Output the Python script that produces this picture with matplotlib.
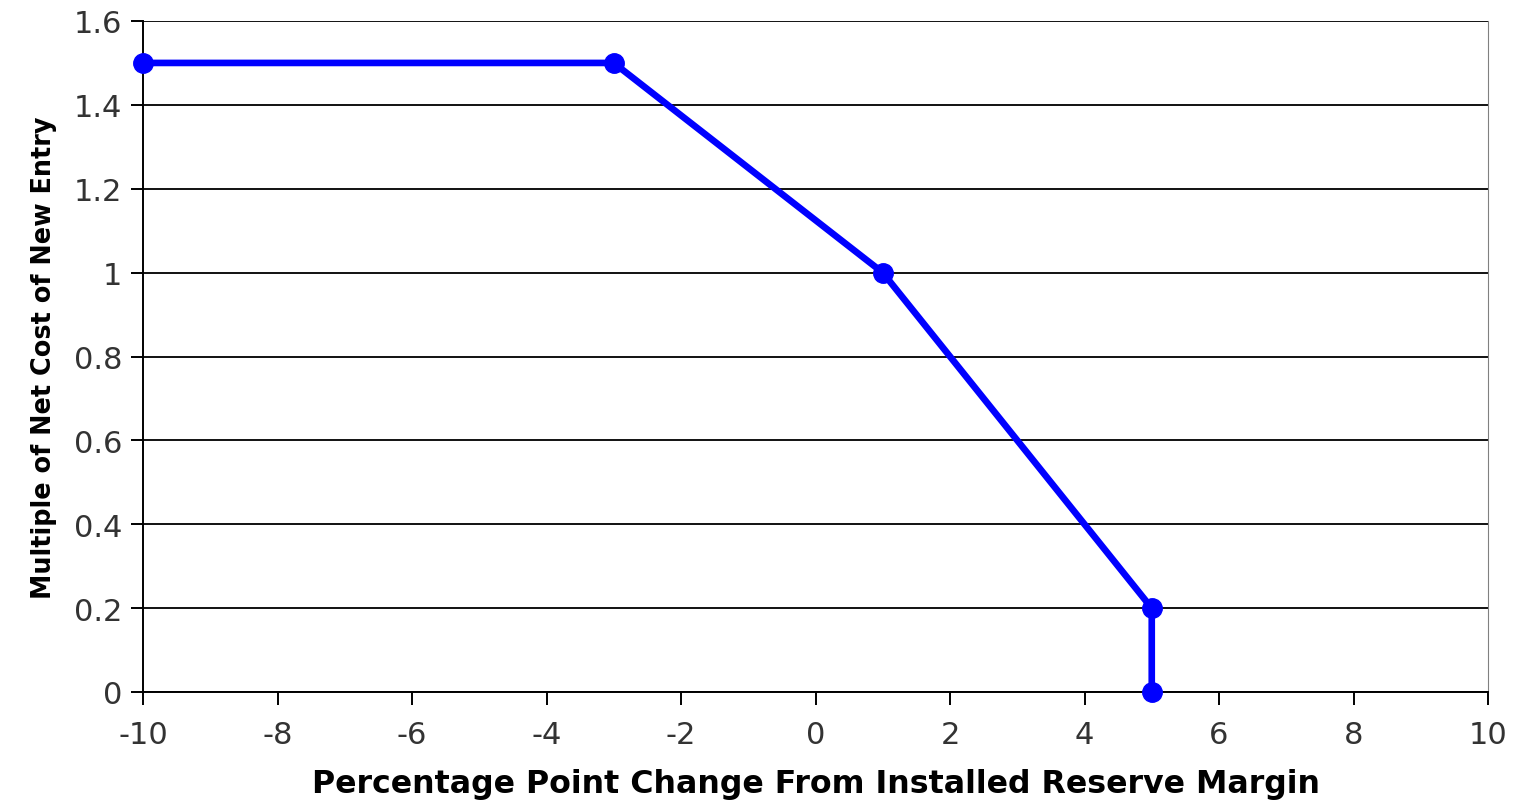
import matplotlib
matplotlib.use('Agg')
import matplotlib.pyplot as plt

# dados da curva
x_vals = [-10, -3, 1, 5, 5]
y_vals = [1.5, 1.5, 1.0, 0.2, 0.0]
x_ticks = [-10, -8, -6, -4, -2, 0, 2, 4, 6, 8, 10]
y_ticks = [0, 0.2, 0.4, 0.6, 0.8, 1, 1.2, 1.4, 1.6]
y_labels = ['0', '0.2', '0.4', '0.6', '0.8', '1', '1.2', '1.4', '1.6']

plt.rcParams['font.family'] = ['DejaVu Sans']
plt.rcParams['axes.unicode_minus'] = False

fig = plt.figure(figsize=(15.18, 8.03), dpi=100)
ax = fig.add_axes([143 / 1518, 1 - 693 / 803, (1488 - 143) / 1518, (693 - 22) / 803])

ax.plot(x_vals, y_vals, color='#0000FF', linewidth=4.8, marker='o', markersize=14,
        solid_capstyle='round', zorder=3, clip_on=False)

ax.set_xlim(-10, 10)
ax.set_ylim(0, 1.6)
ax.set_xticks(x_ticks)
ax.set_yticks(y_ticks)
ax.set_yticklabels(y_labels)
ax.grid(True, axis='y', color='#111111', linewidth=1.4)

ax.spines['top'].set_visible(False)
ax.spines['right'].set_color('#808080')
ax.spines['left'].set_linewidth(1.4)
ax.spines['bottom'].set_linewidth(1.4)
ax.tick_params(axis='both', labelsize=22, labelcolor='#333333', length=9, width=1.4)
ax.tick_params(axis='y', pad=6)
ax.tick_params(axis='x', pad=11)

ax.set_xlabel('Percentage Point Change From Installed Reserve Margin', fontsize=22.8,
              fontweight='bold', labelpad=14)
ax.set_ylabel('Multiple of Net Cost of New Entry', fontsize=18.4, fontweight='bold', labelpad=12)

plt.savefig('out.png', dpi=100)
